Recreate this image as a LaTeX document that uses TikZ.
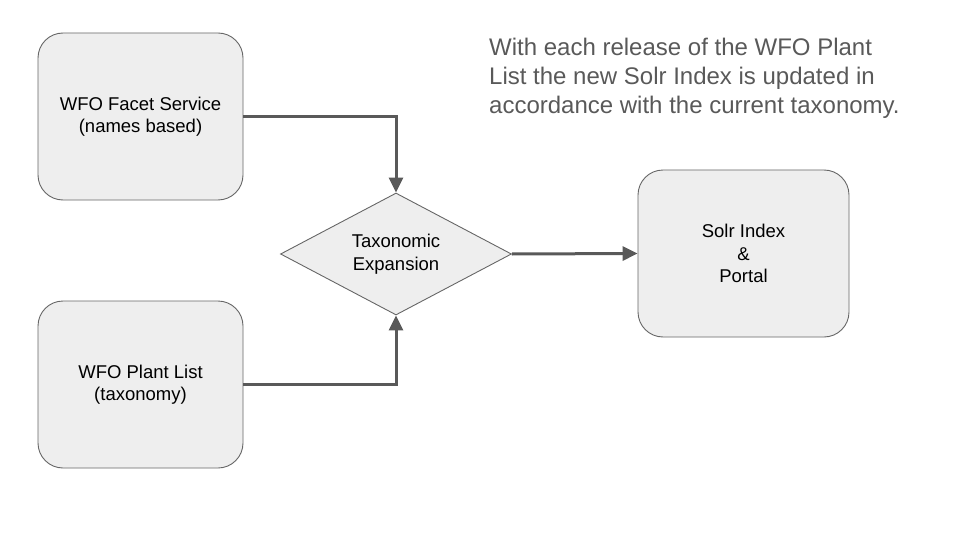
\documentclass[tikz,border=0pt]{standalone}
\usepackage{fontspec}
\setmainfont{Liberation Sans}
\usetikzlibrary{shapes.geometric,arrows.meta}
\definecolor{boxfill}{HTML}{EEEEEE}
\definecolor{boxline}{HTML}{666666}
\definecolor{arrowcol}{HTML}{595959}
\begin{document}
\begin{tikzpicture}[x=1pt,y=-1pt,
  procbox/.style={draw=boxline,line width=0.9pt,fill=boxfill,rounded corners=25pt,
    minimum width=205pt,minimum height=167pt,inner sep=0pt,align=center,
    font=\fontsize{18.5}{22.5}\selectfont},
  decide/.style={draw=boxline,line width=0.9pt,fill=boxfill,diamond,aspect=1.89,
    minimum width=231pt,minimum height=122pt,inner sep=0pt,align=center,
    font=\fontsize{18.5}{22.5}\selectfont},
  flow/.style={draw=arrowcol,line width=3pt,-{Triangle[length=15pt,width=14pt]}}
]
\useasboundingbox (0,0) rectangle (960,540);
\node[procbox] (facet) at (140.5,116.5) {WFO Facet Service\\(names based)};
\node[procbox] (plant) at (140.5,384.5) {WFO Plant List\\(taxonomy)};
\node[decide] (tax) at (396,254) {Taxonomic\\Expansion};
\node[procbox,minimum width=211pt] (solr) at (743.5,253.5) {Solr Index\\\&\\Portal};
\node[anchor=north west,align=left,text=arrowcol,inner sep=0pt,
  font=\fontsize{24}{29}\selectfont] (note) at (489,38)
  {With each release of the WFO Plant\\List the new Solr Index is updated in\\accordance with the current taxonomy.};
\draw[flow] (facet.east) -| (tax.north);
\draw[flow] (plant.east) -| (tax.south);
\draw[flow] (tax.east) -- (solr.west);
\end{tikzpicture}
\end{document}
